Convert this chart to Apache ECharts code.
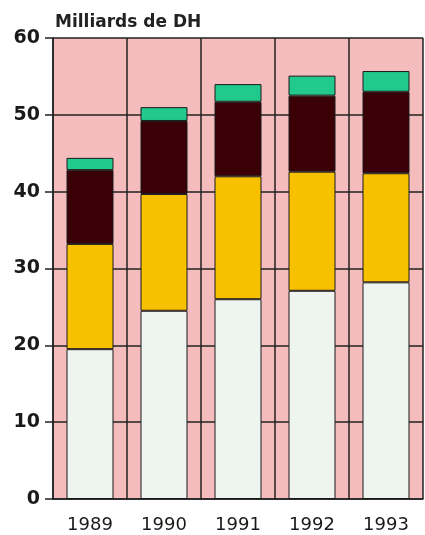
<!DOCTYPE html>
<html>
<head>
<meta charset="utf-8">
<script src="https://cdn.jsdelivr.net/npm/echarts@6/dist/echarts.min.js"></script>
<style>
  html, body { margin: 0; padding: 0; background: #fff; }
  #chart { width: 425px; height: 535px; }
</style>
</head>
<body>
<div id="chart"></div>
<script>
  // années
  const years = ['1989', '1990', '1991', '1992', '1993']
  // segments empilés, du bas vers le haut (milliards de DH)
  const partBas = [19.5, 24.5, 26.0, 27.1, 28.2]
  const partJaune = [13.7, 15.2, 16.0, 15.5, 14.2]
  const partFoncee = [9.6, 9.5, 9.7, 9.9, 10.6]
  const partVerte = [1.6, 1.8, 2.3, 2.6, 2.7]
  const yTicks = [0, 10, 20, 30, 40, 50, 60]

  const barStyle = function (color) {
    return { color: color, borderColor: '#1a1a1a', borderWidth: 1 }
  }

  let chart = echarts.init(document.getElementById('chart'))
  chart.setOption({
    animation: false,
    title: {
      text: 'Milliards de DH',
      left: 50,
      top: 9,
      textStyle: { fontFamily: 'DejaVu Sans', fontSize: 17, fontWeight: 'bold', color: '#222' }
    },
    grid: {
      left: 53, right: 2, top: 38, bottom: 36,
      show: true,
      backgroundColor: '#f5bcbd',
      borderWidth: 0
    },
    xAxis: {
      type: 'category',
      data: years,
      axisLine: { lineStyle: { color: '#222', width: 1.5 } },
      axisTick: { alignWithLabel: true, length: 6, lineStyle: { color: '#222', width: 1.5 } },
      axisLabel: { fontFamily: 'DejaVu Sans', fontSize: 18, color: '#1a1a1a', margin: 17 },
      splitLine: { show: true, lineStyle: { color: '#222', width: 1.5 } }
    },
    yAxis: {
      type: 'value',
      min: yTicks[0],
      max: yTicks[yTicks.length - 1],
      interval: 10,
      axisLine: { show: true, lineStyle: { color: '#222', width: 1.5 } },
      axisTick: { show: true, length: 8, lineStyle: { color: '#222', width: 1.5 } },
      axisLabel: { fontFamily: 'DejaVu Sans', fontSize: 19, fontWeight: 'bold', color: '#1a1a1a', margin: 13 },
      splitLine: { lineStyle: { color: '#222', width: 1.5 } }
    },
    series: [
      { type: 'bar', stack: 'total', barWidth: 47, data: partBas, itemStyle: barStyle('#eef5f0') },
      { type: 'bar', stack: 'total', data: partJaune, itemStyle: barStyle('#f8c100') },
      { type: 'bar', stack: 'total', data: partFoncee, itemStyle: barStyle('#3a0006') },
      { type: 'bar', stack: 'total', data: partVerte, itemStyle: barStyle('#22c98c') }
    ]
  })
</script>
</body>
</html>
